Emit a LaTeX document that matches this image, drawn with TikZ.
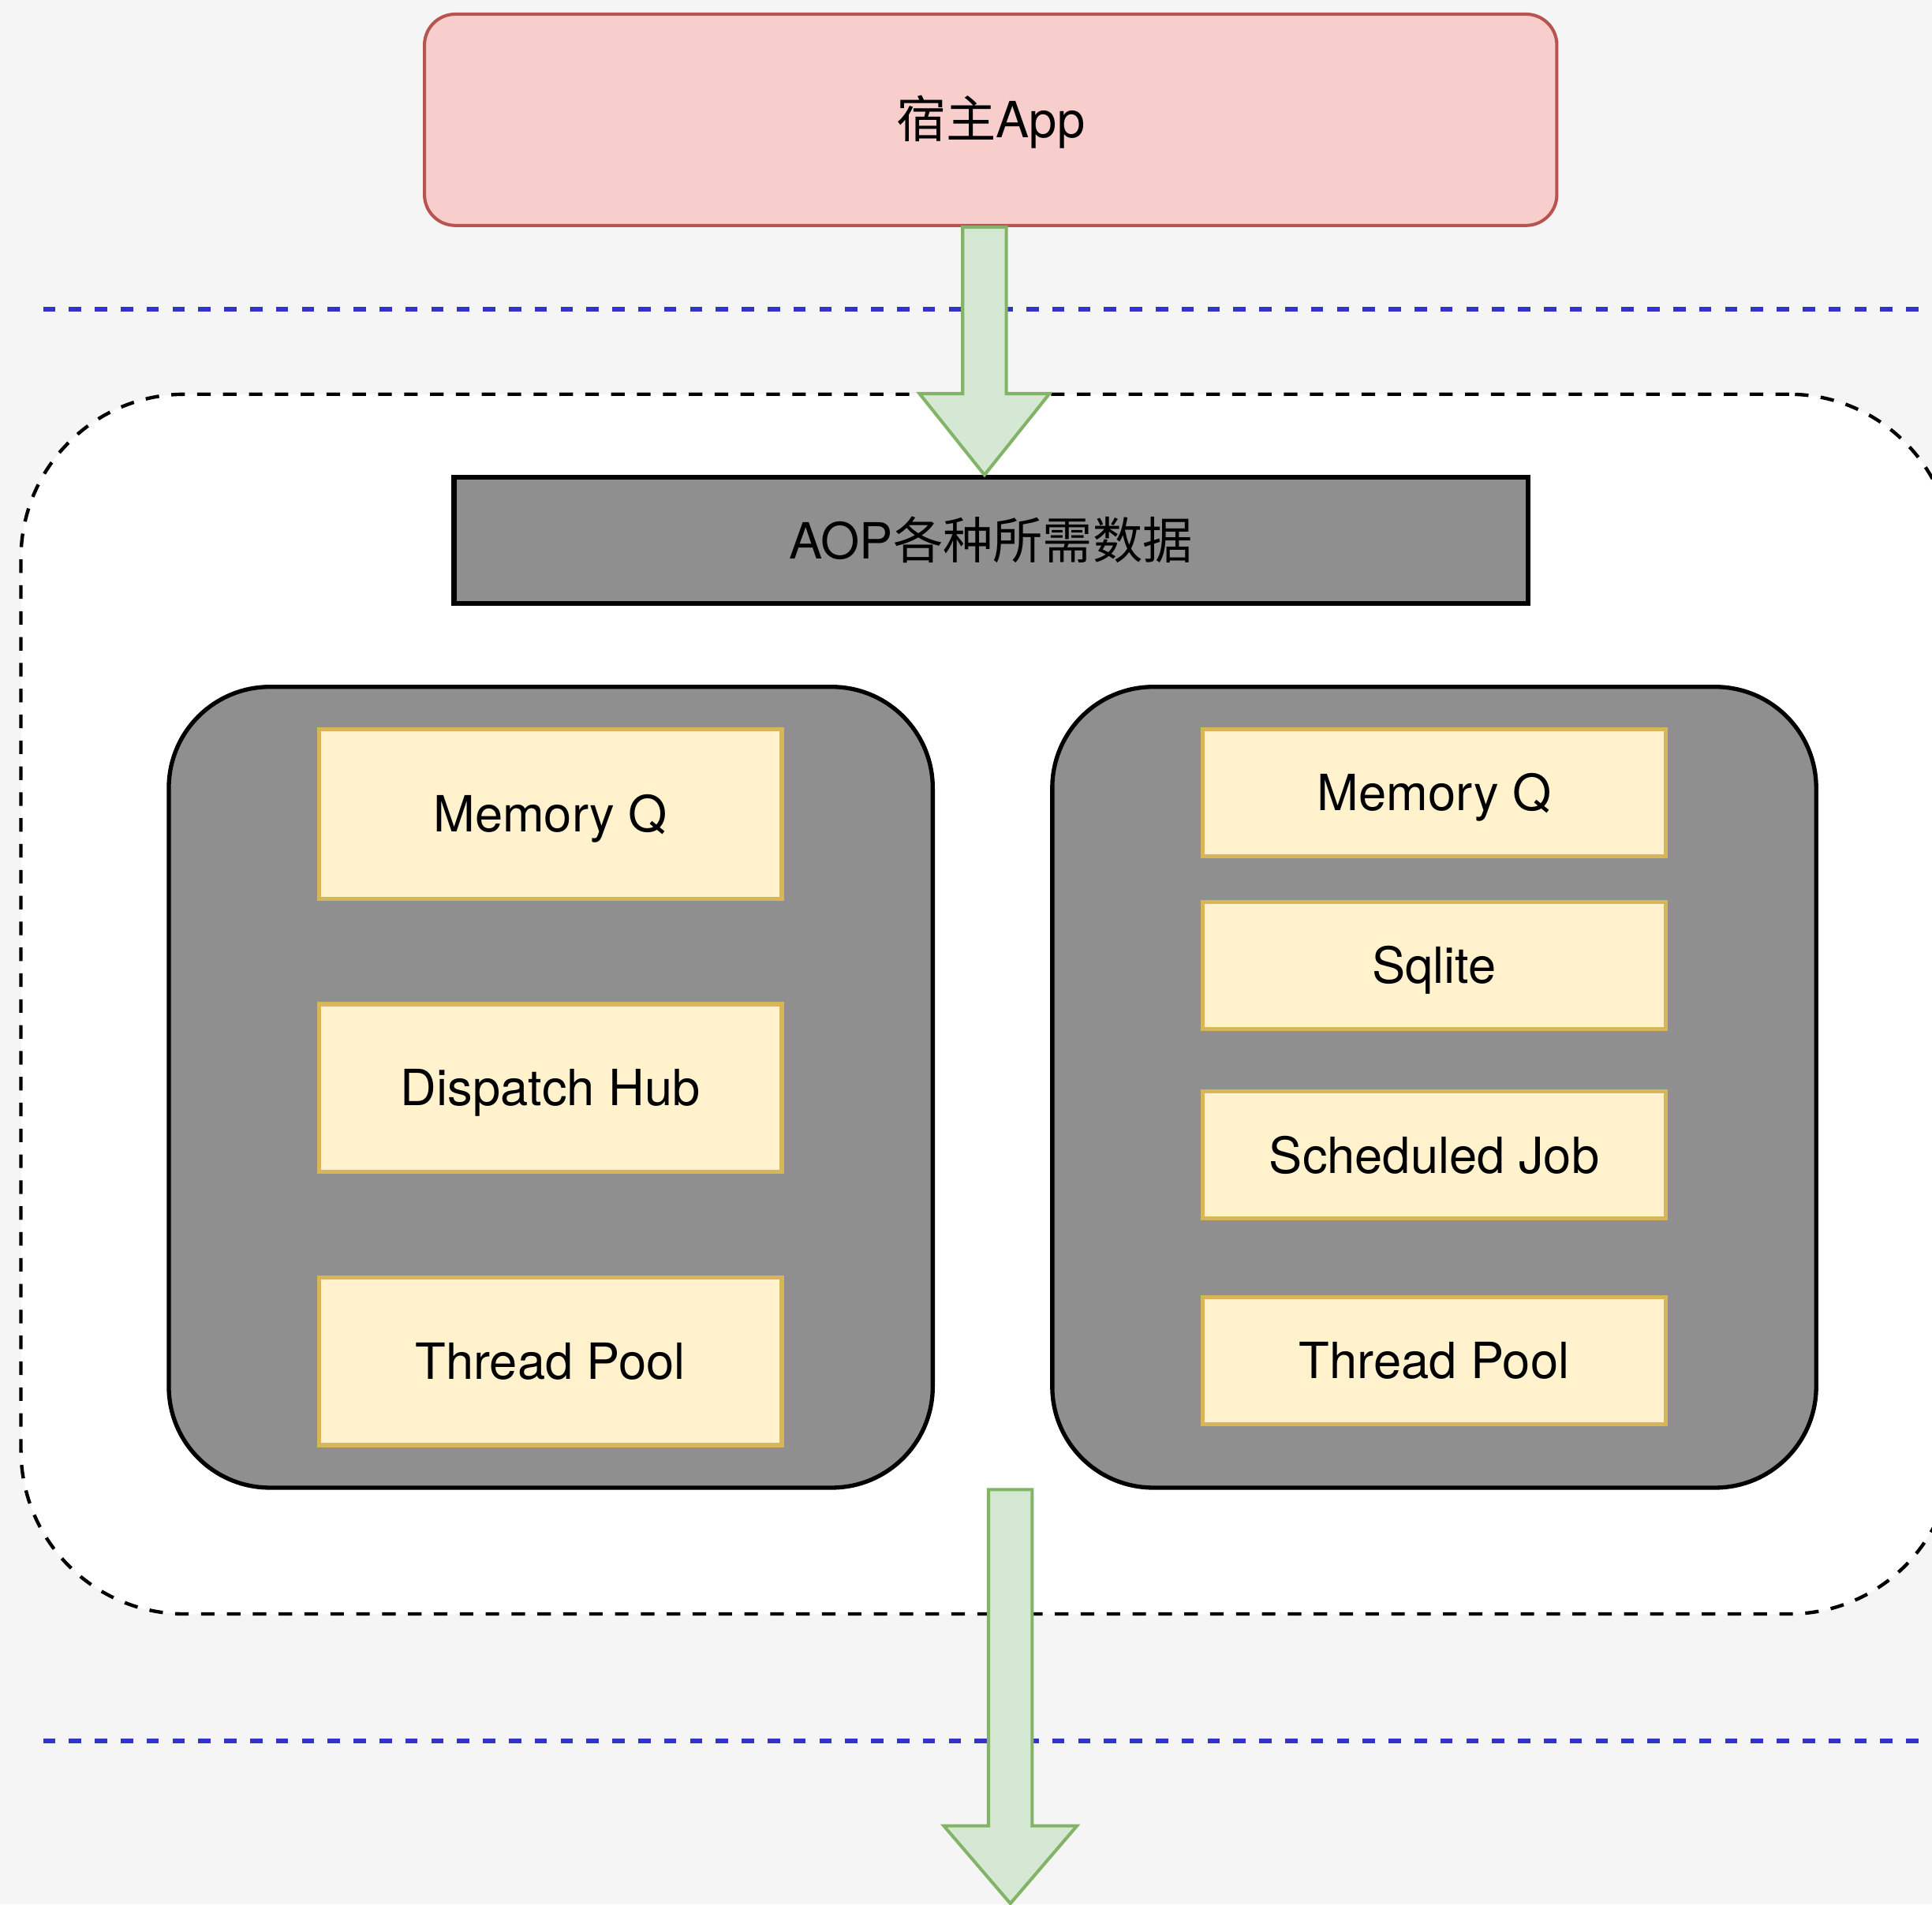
\documentclass[tikz,border=0pt]{standalone}
\usepackage{fontspec}
\setmainfont{TeX Gyre Heros}
\newfontfamily\cjk{Noto Sans CJK SC}
\usetikzlibrary{calc}
\definecolor{bgc}{HTML}{F5F5F5}
\definecolor{pinkfill}{HTML}{F8CECC}
\definecolor{pinkline}{HTML}{B85450}
\definecolor{greyfill}{HTML}{8F8F8F}
\definecolor{yelfill}{HTML}{FFF2CC}
\definecolor{yelline}{HTML}{D6B656}
\definecolor{grnfill}{HTML}{D5E8D4}
\definecolor{grnline}{HTML}{82B366}
\definecolor{blueline}{HTML}{3333CC}
\tikzset{
  txt/.style={font=\fontsize{20.25}{24}\selectfont, text=black, inner sep=0pt, text height=14.6pt, text depth=0pt},
  hostbox/.style={txt, draw=pinkline, fill=pinkfill, line width=1.3pt, rounded corners=12.5pt},
  aopbox/.style={txt, draw=black, fill=greyfill, line width=2pt},
  grpbox/.style={draw=black, fill=greyfill, line width=1.7pt, rounded corners=41pt, inner sep=0pt},
  itembox/.style={txt, draw=yelline, fill=yelfill, line width=1.7pt},
  contbox/.style={draw=black, fill=white, line width=1.4pt, dash pattern=on 5.5pt off 5pt, rounded corners=66.5pt, inner sep=0pt},
  sepline/.style={draw=blueline, line width=1.7pt, dash pattern=on 5pt off 5.5pt},
  blockarrow/.style={draw=grnline, fill=grnfill, line width=1.3pt, line join=miter}
}
\begin{document}
\begin{tikzpicture}[x=0.5pt,y=-0.5pt]
\useasboundingbox (0,0) rectangle (1568,1545.6);
\clip (0,0) rectangle (1568,1545.6);
\fill[bgc] (0,0) rectangle (1568,1545.6);

% separator lines
\coordinate (s1a) at (35,251);
\coordinate (s1b) at (1568,251);
\coordinate (s2a) at (35,1413);
\coordinate (s2b) at (1568,1413);
\draw[sepline] (s1a) -- (s1b);
\draw[sepline] (s2a) -- (s2b);

% dashed container
\node[contbox, minimum width=784pt, minimum height=495pt] (cont) at (801,815) {};

% host app
\node[hostbox, minimum width=459.5pt, minimum height=85.75pt] (host) at (804,97.25) {{\cjk 宿主}App};

% AOP data
\node[aopbox, minimum width=435.75pt, minimum height=51.25pt] (aop) at (804.25,438.75) {AOP{\cjk 各种所需数据}};

% group boxes
\node[grpbox, minimum width=310pt, minimum height=325pt] (gl) at (447,882.5) {};
\node[grpbox, minimum width=310pt, minimum height=325pt] (gr) at (1164,882.5) {};

% left items
\node[itembox, minimum width=187.75pt, minimum height=68.75pt] (lmq) at (446.75,660.75) {Memory Q};
\node[itembox, minimum width=187.75pt, minimum height=68pt] (ldh) at (446.75,883) {Dispatch Hub};
\node[itembox, minimum width=187.75pt, minimum height=68pt] (ltp) at (446.75,1105) {Thread Pool};

% right items
\node[itembox, minimum width=188pt, minimum height=51.5pt] (rmq) at (1164,643.5) {Memory Q};
\node[itembox, minimum width=188pt, minimum height=51.5pt] (rsq) at (1164,783.5) {Sqlite};
\node[itembox, minimum width=188pt, minimum height=51.5pt] (rsj) at (1164,937.5) {Scheduled Job};
\node[itembox, minimum width=188pt, minimum height=51.5pt] (rtp) at (1164,1104.5) {Thread Pool};

% top block arrow: host -> aop
\coordinate (a1s) at (host.south -| 799,0);
\coordinate (a1e) at (aop.north -| 799,0);
\draw[blockarrow] ($(a1s)+(-17.75,0)$) -- ($(a1s)+(17.75,0)$) -- ($(a1e)+(17.75,-66)$) -- ($(a1e)+(52.75,-66)$) -- (a1e) -- ($(a1e)+(-52.75,-66)$) -- ($(a1e)+(-17.75,-66)$) -- cycle;

% bottom block arrow: out of the container
\coordinate (a2s) at (820,1209);
\coordinate (a2e) at (820,1545);
\draw[blockarrow] ($(a2s)+(-17.75,0)$) -- ($(a2s)+(17.75,0)$) -- ($(a2e)+(17.75,-63)$) -- ($(a2e)+(54,-63)$) -- (a2e) -- ($(a2e)+(-54,-63)$) -- ($(a2e)+(-17.75,-63)$) -- cycle;
\end{tikzpicture}
\end{document}
